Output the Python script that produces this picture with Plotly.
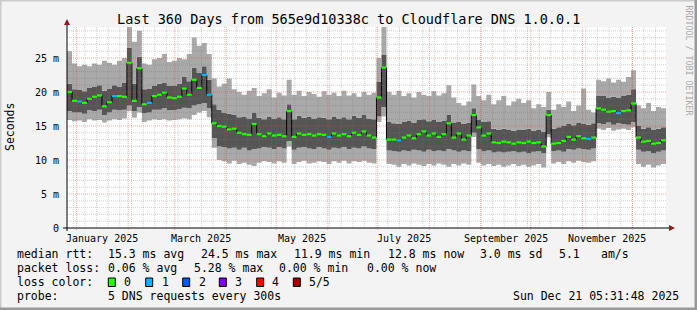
import plotly.graph_objects as go
import pandas as pd

# ---------------- data ----------------
start = pd.Timestamp("2024-12-26 05:31:48")
end = pd.Timestamp("2025-12-21 05:31:48")
step_days = 3

ping_min = [15.9, 15.7, 15.8, 15.6, 16.0, 15.8, 15.9, 15.5, 15.8, 16.0,
            15.9, 16.1, 17.2, 16.2, 17.0, 15.6, 15.8, 16.0, 15.9, 16.0,
            15.8, 15.9, 16.0, 16.1, 16.0, 16.6, 17.0, 17.2, 16.3, 11.8,
            10.0, 9.8, 9.5, 9.9, 9.4, 9.6, 9.3, 9.1, 9.6, 9.8,
            9.7, 9.5, 9.8, 9.6, 12.0, 9.4, 9.7, 9.9, 9.5, 9.6,
            9.8, 9.7, 9.4, 9.8, 9.6, 9.9, 9.5, 9.8, 9.7, 9.9,
            9.6, 9.5, 15.6, 16.4, 9.4, 9.3, 9.0, 9.4, 9.2, 9.5,
            9.3, 9.1, 9.4, 9.2, 9.5, 9.3, 9.0, 9.4, 9.2, 9.5,
            9.3, 13.4, 9.6, 9.2, 9.4, 9.1, 9.3, 9.0, 9.2, 9.4,
            9.1, 9.3, 9.0, 9.2, 9.4, 8.9, 13.3, 9.5, 9.7, 9.4,
            9.8, 9.6, 9.9, 9.7, 9.6, 9.8, 14.6, 14.4, 14.7, 14.3,
            14.5, 14.6, 14.4, 14.8, 9.4, 9.0, 9.3, 8.9, 9.2, 9.4]

smoke_lo = [17.2, 17.0, 17.0, 16.8, 17.3, 17.2, 17.4, 16.6, 17.0, 17.4,
            17.3, 17.4, 18.0, 17.2, 17.8, 16.9, 17.0, 17.4, 17.4, 17.6,
            17.3, 17.3, 17.5, 17.7, 17.6, 18.0, 18.2, 18.4, 17.6, 13.2,
            12.0, 11.9, 11.7, 11.8, 11.5, 11.8, 11.4, 11.6, 11.7, 11.9,
            11.8, 11.6, 11.9, 11.7, 12.8, 11.5, 11.8, 11.9, 11.7, 11.6,
            11.9, 11.7, 11.5, 11.8, 11.7, 11.9, 11.6, 11.8, 11.7, 12.0,
            11.7, 11.6, 16.4, 17.8, 11.4, 11.3, 11.2, 11.4, 11.3, 11.5,
            11.4, 11.2, 11.5, 11.3, 11.4, 11.3, 11.6, 11.4, 11.2, 11.4,
            11.3, 14.0, 11.6, 11.3, 11.4, 11.1, 11.2, 11.1, 11.2, 11.3,
            11.1, 11.2, 11.0, 11.2, 11.3, 11.0, 13.8, 11.3, 11.4, 11.2,
            11.6, 11.5, 11.7, 11.6, 11.5, 11.7, 15.4, 15.3, 15.5, 15.2,
            15.4, 15.3, 15.2, 15.6, 11.5, 11.2, 11.3, 11.0, 11.2, 11.4]

median_rtt = [20.0, 18.7, 18.6, 18.4, 19.0, 19.3, 19.5, 17.9, 18.5, 19.4,
              19.4, 19.3, 24.3, 18.7, 23.5, 18.2, 18.4, 19.4, 19.6, 19.9,
              19.2, 19.1, 19.3, 20.5, 19.6, 21.8, 20.6, 22.5, 19.6, 15.4,
              15.0, 14.9, 14.5, 14.6, 14.0, 13.8, 13.7, 15.3, 13.8, 13.5,
              13.9, 13.6, 13.7, 13.5, 17.2, 13.4, 13.9, 13.7, 13.8, 13.6,
              13.8, 13.7, 13.4, 13.9, 13.6, 13.8, 13.5, 14.0, 13.7, 14.2,
              13.6, 13.3, 19.2, 23.6, 13.0, 13.0, 12.9, 13.3, 13.6, 13.2,
              13.8, 14.2, 13.6, 13.9, 13.4, 13.8, 15.4, 13.3, 13.9, 13.0,
              13.6, 16.6, 14.8, 13.6, 13.9, 12.6, 12.5, 12.7, 12.6, 12.4,
              12.6, 12.5, 12.7, 12.5, 12.6, 12.0, 16.6, 12.4, 12.5, 12.8,
              13.4, 13.0, 13.5, 13.2, 13.1, 13.3, 17.6, 17.4, 17.1, 17.2,
              16.9, 17.2, 17.3, 18.3, 13.3, 12.7, 12.8, 12.4, 12.5, 12.9]

smoke_hi = [21.2, 20.4, 20.3, 20.1, 20.6, 20.8, 21.0, 20.2, 20.5, 21.0,
            20.8, 21.4, 26.5, 21.2, 25.2, 20.4, 20.5, 20.9, 21.2, 21.4,
            20.9, 20.9, 21.2, 22.2, 21.6, 23.6, 22.8, 23.8, 21.8, 18.2,
            17.4, 17.0, 16.8, 16.6, 16.3, 16.4, 16.1, 17.0, 16.2, 16.0,
            16.4, 16.1, 16.3, 16.0, 18.2, 16.0, 16.5, 16.2, 16.4, 16.1,
            16.3, 16.2, 16.0, 16.4, 16.1, 16.3, 16.0, 16.5, 16.2, 16.6,
            16.1, 16.0, 21.5, 25.5, 15.6, 15.4, 15.3, 15.6, 15.8, 15.5,
            15.9, 16.0, 15.7, 15.9, 15.6, 15.8, 16.6, 15.5, 15.6, 15.3,
            15.5, 17.6, 15.9, 15.6, 15.7, 14.6, 14.4, 14.6, 14.5, 14.3,
            14.5, 14.4, 14.6, 14.3, 14.5, 14.2, 17.4, 14.6, 14.8, 15.0,
            15.3, 15.1, 15.5, 15.3, 15.2, 15.4, 19.5, 19.4, 19.2, 19.3,
            19.2, 19.4, 19.6, 20.4, 15.0, 14.6, 14.8, 14.5, 14.6, 14.8]

ping_max = [26.0, 24.2, 23.8, 24.0, 23.8, 24.2, 24.0, 24.6, 24.3, 24.0,
            24.6, 25.0, 29.6, 27.4, 29.0, 24.2, 24.0, 24.8, 25.0, 25.6,
            24.4, 24.6, 25.0, 24.8, 25.6, 28.0, 26.8, 27.2, 25.6, 22.0,
            20.8, 21.2, 22.0, 20.4, 20.0, 19.6, 20.2, 20.6, 19.4, 19.8,
            20.4, 19.2, 19.9, 19.5, 21.8, 19.6, 20.2, 19.4, 20.0, 19.7,
            19.3, 20.1, 19.6, 19.9, 19.4, 20.2, 19.5, 19.8, 19.3, 20.0,
            19.6, 19.9, 25.0, 29.6, 20.0, 19.6, 20.2, 19.4, 19.8, 19.2,
            20.0, 19.6, 19.4, 20.1, 19.5, 19.8, 21.0, 19.2, 18.4, 18.0,
            18.6, 21.1, 19.4, 18.8, 19.6, 18.2, 18.8, 19.4, 18.0, 18.6,
            19.0, 18.4, 18.8, 17.6, 18.2, 17.8, 20.0, 17.4, 18.2, 17.8,
            18.6, 17.2, 18.0, 20.5, 17.4, 17.0, 21.8, 21.6, 22.0, 21.4,
            21.8, 21.5, 22.2, 23.2, 18.0, 17.6, 18.4, 17.2, 17.8, 17.6]

loss = [0, 0, 1, 0, 0, 0, 0, 0, 0, 1,
        0, 0, 0, 0, 0, 0, 1, 0, 0, 0,
        0, 0, 0, 0, 0, 0, 0, 1, 1, 0,
        0, 0, 0, 0, 0, 0, 0, 0, 0, 0,
        0, 0, 0, 0, 0, 0, 0, 0, 0, 0,
        0, 0, 1, 0, 0, 0, 0, 0, 0, 0,
        0, 0, 0, 0, 0, 0, 1, 0, 0, 0,
        0, 0, 0, 0, 0, 0, 0, 0, 0, 0,
        0, 0, 0, 0, 0, 0, 0, 0, 0, 0,
        0, 0, 0, 0, 0, 0, 0, 0, 0, 0,
        0, 0, 0, 0, 1, 0, 0, 0, 0, 0,
        1, 0, 0, 0, 0, 0, 0, 0, 0, 0]

month_starts = ["2025-01-01", "2025-02-01", "2025-03-01", "2025-04-01",
                "2025-05-01", "2025-06-01", "2025-07-01", "2025-08-01",
                "2025-09-01", "2025-10-01", "2025-11-01", "2025-12-01"]
label_months = ["2025-01-01", "2025-03-01", "2025-05-01",
                "2025-07-01", "2025-09-01", "2025-11-01"]
month_labels = ["January 2025", "March 2025", "May 2025",
                "July 2025", "September 2025", "November 2025"]
y_ticks = [0, 5, 10, 15, 20, 25]
y_ticktext = ["0", "5 m", "10 m", "15 m", "20 m", "25 m"]
y_max = 29.56

legend_rows = [
    ["median rtt:", "15.3 ms avg", "24.5 ms max", "11.9 ms min",
     "12.8 ms now", "3.0 ms sd", "5.1", "am/s"],
    ["packet loss:", "0.06 % avg", "5.28 % max", "0.00 % min", "0.00 % now"],
]
loss_names = ["0", "1", "2", "3", "4", "5/5"]
loss_colors = ["#26ff00", "#00b8ff", "#0059ff", "#7e00ff", "#ff0000", "#a10000"]

# ---------------- layout geometry ----------------
W, H = 697, 310
L, R, T, B = 67, 31, 27, 82
PW, PH = W - L - R, H - T - B
FONT = "DejaVu Sans Mono"


def px(xp):
    return (xp - L) / PW


def py(yp):
    return (H - B - yp) / PH


times = [start + pd.Timedelta(days=step_days * i) for i in range(len(median_rtt) + 1)]


def ext(a):
    return list(a) + [a[-1]]


LIGHT = "#a9a9a9"
DARK = "#555555"

fig = go.Figure()
common = dict(mode="lines", line_shape="hv", hoverinfo="skip", showlegend=False)
fig.add_trace(go.Scatter(x=times, y=ext(ping_min), line=dict(width=0), **common))
fig.add_trace(go.Scatter(x=times, y=ext(smoke_lo), line=dict(width=0),
                         fill="tonexty", fillcolor=LIGHT, **common))
fig.add_trace(go.Scatter(x=times, y=ext(smoke_hi), line=dict(width=0),
                         fill="tonexty", fillcolor=DARK, **common))
fig.add_trace(go.Scatter(x=times, y=ext(ping_max), line=dict(width=0),
                         fill="tonexty", fillcolor=LIGHT, **common))
fig.add_trace(go.Scatter(x=times, y=ext(median_rtt),
                         line=dict(width=1, color="#000000"), **common))

for lvl, col in enumerate(loss_colors[:2]):
    xs, ys = [], []
    for i, m in enumerate(median_rtt):
        if loss[i] == lvl:
            xs += [times[i], times[i + 1], None]
            ys += [m, m, None]
    fig.add_trace(go.Scatter(x=xs, y=ys, mode="lines", line=dict(width=2.2, color=col),
                             connectgaps=False, hoverinfo="skip", showlegend=False))

shapes = []
# minor grid (weekly, 1 m)
wk = pd.Timestamp("2024-12-30")
while wk < end:
    shapes.append(dict(type="line", xref="x", yref="paper", x0=wk, x1=wk, y0=0, y1=1,
                       line=dict(color="rgba(120,120,120,0.35)", width=1, dash="1px,1px"),
                       layer="above"))
    wk += pd.Timedelta(days=7)
for v in range(1, int(y_max) + 1):
    if v % 5:
        shapes.append(dict(type="line", xref="paper", yref="y", x0=0, x1=1, y0=v, y1=v,
                           line=dict(color="rgba(120,120,120,0.35)", width=1, dash="1px,1px"),
                           layer="above"))
# major grid
for m in month_starts:
    shapes.append(dict(type="line", xref="x", yref="paper", x0=m, x1=m, y0=py(230), y1=1,
                       line=dict(color="rgba(235,60,60,0.45)", width=1, dash="1px,1px"),
                       layer="above"))
for v in y_ticks[1:]:
    shapes.append(dict(type="line", xref="paper", yref="y", x0=0, x1=1, y0=v, y1=v,
                       line=dict(color="rgba(235,60,60,0.45)", width=1, dash="1px,1px"),
                       layer="above"))
# axes
shapes.append(dict(type="line", xref="paper", yref="paper", x0=px(63), x1=px(670),
                   y0=0, y1=0, line=dict(color="#000000", width=1), layer="above"))
shapes.append(dict(type="line", xref="paper", yref="paper", x0=0, x1=0,
                   y0=py(231), y1=py(24), line=dict(color="#000000", width=1), layer="above"))
shapes.append(dict(type="path", xref="paper", yref="paper",
                   path=f"M {px(669)} {py(225)} L {px(675)} {py(228)} L {px(669)} {py(231)} Z",
                   fillcolor="#8b1a1a", line=dict(width=0), layer="above"))
shapes.append(dict(type="path", xref="paper", yref="paper",
                   path=f"M {px(64)} {py(25)} L {px(67)} {py(19)} L {px(70)} {py(25)} Z",
                   fillcolor="#8b1a1a", line=dict(width=0), layer="above"))
# frame
shapes.append(dict(type="rect", xref="paper", yref="paper", x0=px(0), x1=px(W), y0=py(0), y1=py(1.5),
                   fillcolor="#cbcbcb", line=dict(width=0), layer="below"))
shapes.append(dict(type="rect", xref="paper", yref="paper", x0=px(0), x1=px(1.5), y0=py(0), y1=py(H),
                   fillcolor="#cbcbcb", line=dict(width=0), layer="below"))
shapes.append(dict(type="rect", xref="paper", yref="paper", x0=px(W - 2.5), x1=px(W), y0=py(0), y1=py(H),
                   fillcolor="#999999", line=dict(width=0), layer="below"))
shapes.append(dict(type="rect", xref="paper", yref="paper", x0=px(0), x1=px(W), y0=py(H - 2.5), y1=py(H),
                   fillcolor="#999999", line=dict(width=0), layer="below"))

# legend boxes
box_x = [108.3, 145.7, 182.7, 219.3, 256.7, 293.3]
for bx, col in zip(box_x, loss_colors):
    shapes.append(dict(type="rect", xref="paper", yref="paper", x0=px(bx), x1=px(bx + 7),
                       y0=py(286.5), y1=py(278), fillcolor=col,
                       line=dict(color="#000000", width=1)))

ann = []


def txt(x, y, s, size=11.5, anchor="left", color="#000000", angle=0):
    ann.append(dict(x=px(x), y=py(y), xref="paper", yref="paper", text=s, showarrow=False,
                    xanchor=anchor, yanchor="middle", borderpad=0, textangle=angle,
                    font=dict(family=FONT, size=size, color=color)))


txt(348.5, 19, "Last 360 Days from 565e9d10338c to Cloudflare DNS 1.0.0.1", size=13.5, anchor="center")
txt(10, 127, "Seconds", size=11.5, anchor="center", angle=-90)
txt(688.5, 60, "RRDTOOL / TOBI OETIKER", size=8.3, anchor="center", color="#aaaaaa", angle=90)

row_x = [[16, 107.3, 200, 293.3, 386.7, 479.3, 558.3, 600],
         [16, 107.3, 193.3, 278.3, 365.7]]
row_y = [254, 268]
for r, xs, yy in zip(legend_rows, row_x, row_y):
    for s, xx in zip(r, xs):
        txt(xx, yy, s)
txt(16, 282, "loss color:")
for xx, s in zip([123.3, 160.7, 197.7, 234.3, 271, 308.3], loss_names):
    txt(xx, 282, s)
txt(16, 296, "probe:")
txt(107.3, 296, "5 DNS requests every 300s")
txt(680, 296, "Sun Dec 21 05:31:48 2025", anchor="right")

# month labels centred in the month
for m, lab in zip(label_months, month_labels):
    ms = pd.Timestamp(m)
    mid = ms + (ms + pd.offsets.MonthBegin(1) - ms) / 2
    ann.append(dict(x=mid, y=py(238), xref="x", yref="paper", text=lab, showarrow=False,
                    xanchor="center", yanchor="middle", borderpad=0,
                    font=dict(family=FONT, size=10, color="#000000")))

fig.update_layout(
    width=W, height=H, margin=dict(l=L, r=R, t=T, b=B),
    paper_bgcolor="#f3f3f3", plot_bgcolor="#ffffff",
    shapes=shapes, annotations=ann, showlegend=False,
    xaxis=dict(type="date", range=[start, end], showgrid=False, zeroline=False,
               showticklabels=False, ticks="", showline=False, fixedrange=True),
    yaxis=dict(range=[0, y_max], tickvals=y_ticks, ticktext=y_ticktext, showgrid=False,
               zeroline=False, showline=False, ticks="outside", ticklen=5,
               tickcolor="rgba(0,0,0,0)", tickfont=dict(family=FONT, size=10, color="#000000"),
               fixedrange=True),
)

fig.write_html("out.html", config={"displayModeBar": False})
